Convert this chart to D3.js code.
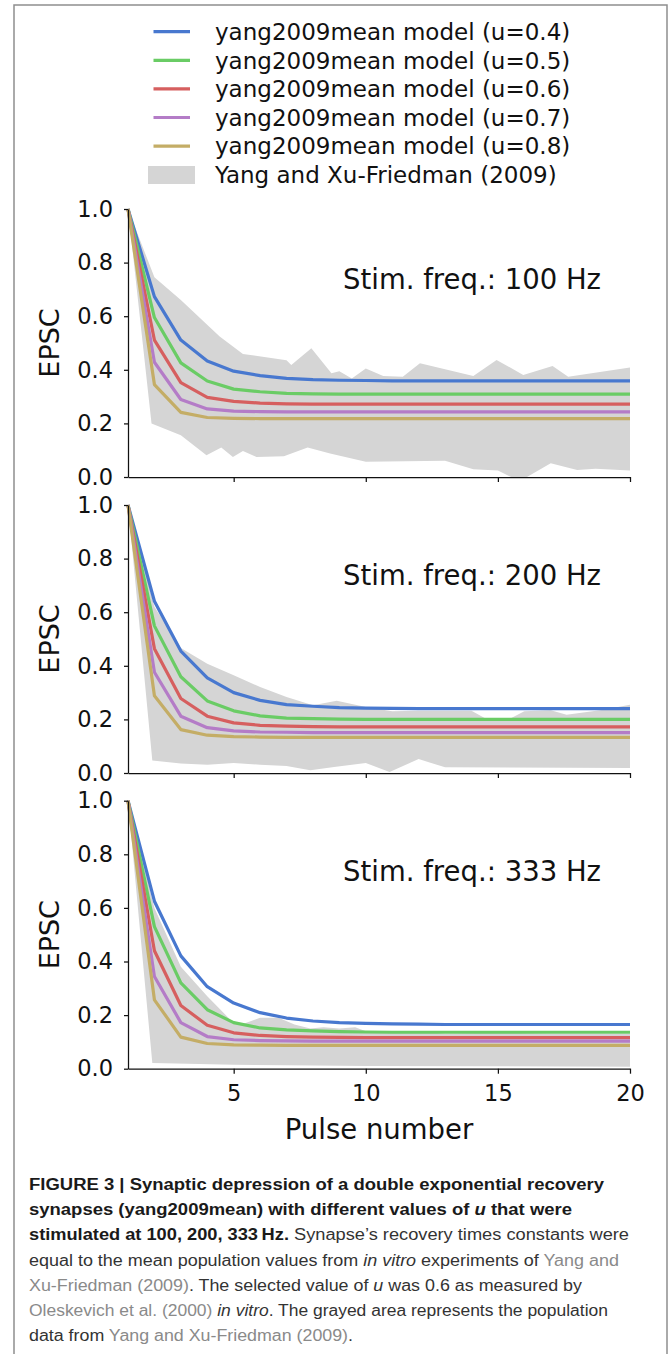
<!DOCTYPE html>
<html>
<head>
<meta charset="utf-8">
<script src="https://cdn.jsdelivr.net/npm/d3@7"></script>
<style>
  body { margin: 0; background: #fff; }
  svg { display: block; }
</style>
</head>
<body>
<div id="fig"></div>
<script>
// pulse numbers and model parameters
let pulses = d3.range(1, 21)
let uValues = [0.4, 0.5, 0.6, 0.7, 0.8]
let freqs = [100, 200, 333]
let lineColors = ["#4878CF", "#6ACC65", "#D65F5F", "#B47CC7", "#C4AD66"]
let yTicks = [0, 0.2, 0.4, 0.6, 0.8, 1.0]
let xTicks = [5, 10, 15, 20]

// model EPSC, one row per u value
let epsc100 = [
    [1, 0.673, 0.511, 0.433, 0.395, 0.378, 0.368, 0.363, 0.361, 0.360, 0.359, 0.359, 0.359, 0.359, 0.359, 0.359, 0.359, 0.359, 0.359, 0.359],
    [1, 0.595, 0.426, 0.358, 0.328, 0.318, 0.312, 0.310, 0.309, 0.309, 0.309, 0.309, 0.309, 0.309, 0.309, 0.309, 0.309, 0.309, 0.309, 0.309],
    [1, 0.511, 0.352, 0.297, 0.282, 0.276, 0.273, 0.272, 0.272, 0.272, 0.272, 0.272, 0.272, 0.272, 0.272, 0.272, 0.272, 0.272, 0.272, 0.272],
    [1, 0.428, 0.289, 0.254, 0.246, 0.244, 0.243, 0.243, 0.243, 0.243, 0.243, 0.243, 0.243, 0.243, 0.243, 0.243, 0.243, 0.243, 0.243, 0.243],
    [1, 0.345, 0.241, 0.222, 0.219, 0.218, 0.218, 0.218, 0.218, 0.218, 0.218, 0.218, 0.218, 0.218, 0.218, 0.218, 0.218, 0.218, 0.218, 0.218]
]
let epsc200 = [
    [1, 0.641, 0.455, 0.355, 0.300, 0.271, 0.255, 0.249, 0.244, 0.242, 0.241, 0.240, 0.240, 0.240, 0.240, 0.240, 0.240, 0.240, 0.240, 0.240],
    [1, 0.549, 0.359, 0.269, 0.232, 0.213, 0.205, 0.203, 0.201, 0.200, 0.200, 0.200, 0.200, 0.200, 0.200, 0.200, 0.200, 0.200, 0.200, 0.200],
    [1, 0.464, 0.278, 0.212, 0.187, 0.178, 0.175, 0.173, 0.172, 0.172, 0.172, 0.172, 0.172, 0.172, 0.172, 0.172, 0.172, 0.172, 0.172, 0.172],
    [1, 0.376, 0.212, 0.169, 0.157, 0.153, 0.152, 0.151, 0.151, 0.151, 0.151, 0.151, 0.151, 0.151, 0.151, 0.151, 0.151, 0.151, 0.151, 0.151],
    [1, 0.288, 0.162, 0.141, 0.136, 0.134, 0.133, 0.133, 0.133, 0.133, 0.133, 0.133, 0.133, 0.133, 0.133, 0.133, 0.133, 0.133, 0.133, 0.133]
]
let epsc333 = [
    [1, 0.625, 0.421, 0.306, 0.245, 0.209, 0.189, 0.178, 0.172, 0.169, 0.167, 0.166, 0.165, 0.165, 0.165, 0.165, 0.165, 0.165, 0.165, 0.165],
    [1, 0.530, 0.320, 0.220, 0.172, 0.152, 0.145, 0.141, 0.138, 0.137, 0.136, 0.136, 0.136, 0.136, 0.136, 0.136, 0.136, 0.136, 0.136, 0.136],
    [1, 0.440, 0.236, 0.162, 0.134, 0.124, 0.120, 0.118, 0.117, 0.116, 0.116, 0.116, 0.116, 0.116, 0.116, 0.116, 0.116, 0.116, 0.116, 0.116],
    [1, 0.344, 0.172, 0.120, 0.108, 0.105, 0.104, 0.103, 0.103, 0.103, 0.103, 0.103, 0.103, 0.103, 0.103, 0.103, 0.103, 0.103, 0.103, 0.103],
    [1, 0.257, 0.118, 0.094, 0.089, 0.088, 0.087, 0.087, 0.087, 0.087, 0.087, 0.087, 0.087, 0.087, 0.087, 0.087, 0.087, 0.087, 0.087, 0.087]
]

// population data envelope (Yang and Xu-Friedman 2009), [pulse, EPSC]
let bandUpper100 = [[1, 1], [2, 0.745], [3, 0.66], [4.47, 0.524], [5.35, 0.459], [7, 0.436], [7.18, 0.418], [7.94, 0.48], [8.7, 0.387], [9, 0.395], [9.47, 0.368], [10, 0.405], [10.66, 0.377], [11.4, 0.374], [12.05, 0.424], [14.07, 0.377], [14.95, 0.437], [15.96, 0.381], [17.07, 0.414], [17.66, 0.374], [20, 0.409]]
let bandLower100 = [[1, 1], [1.89, 0.2], [3, 0.156], [3.97, 0.081], [4.53, 0.11], [4.97, 0.075], [5.35, 0.097], [5.86, 0.075], [6.9, 0.077], [7.8, 0.11], [8.65, 0.088], [10, 0.057], [13, 0.061], [14.07, 0.029], [15, 0.024], [15.5, 0], [16.1, 0], [17, 0.051], [18, 0.026], [18.7, 0.031], [20, 0.024]]
let bandUpper200 = [[1, 1], [2, 0.62], [3, 0.466], [4, 0.408], [5, 0.365], [6, 0.321], [7, 0.284], [8, 0.253], [8.9, 0.27], [10, 0.246], [11, 0.23], [12, 0.232], [14, 0.232], [14.6, 0.2], [15.4, 0.2], [16, 0.23], [17, 0.234], [17.6, 0.217], [19, 0.236], [20, 0.255]]
let bandLower200 = [[1, 1], [1.92, 0.047], [3, 0.035], [4, 0.031], [5, 0.037], [6, 0.031], [7, 0.026], [7.9, 0.01], [8.8, 0.022], [10, 0.037], [10.9, 0.004], [12, 0.052], [13, 0.021], [20, 0.019]]
let bandUpper333 = [[1, 1], [2, 0.6], [3, 0.38], [4, 0.27], [4.9, 0.18], [5.3, 0.165], [6, 0.19], [6.7, 0.19], [7.3, 0.165], [7.9, 0.15], [8.4, 0.155], [9, 0.15], [9.6, 0.155], [10, 0.14], [11, 0.135], [12, 0.14], [13, 0.13], [15, 0.135], [17, 0.13], [20, 0.13]]
let bandLower333 = [[1, 1], [1.92, 0.021], [5, 0.015], [8, 0.012], [10, 0.01], [15, 0.009], [20, 0.007]]

let legendLabels = uValues.map(u => "yang2009mean model (u=" + u + ")")
let bandLabel = "Yang and Xu-Friedman (2009)"

let captionLines = [
    [["FIGURE 3 | Synaptic depression of a double exponential recovery", "b"]],
    [["synapses (yang2009mean) with different values of ", "b"], ["u", "bi"], [" that were", "b"]],
    [["stimulated at 100, 200, 333\u2009Hz.", "b"], [" Synapse\u2019s recovery times constants were", "n"]],
    [["equal to the mean population values from ", "n"], ["in vitro", "i"], [" experiments of ", "n"], ["Yang and", "l"]],
    [["Xu-Friedman (2009)", "l"], [". The selected value of ", "n"], ["u", "i"], [" was 0.6 as measured by", "n"]],
    [["Oleskevich et al. (2000)", "l"], [" ", "n"], ["in vitro", "i"], [". The grayed area represents the population", "n"]],
    [["data from ", "n"], ["Yang and Xu-Friedman (2009)", "l"], [".", "n"]]
]
let captionWidths = [575, 543, 600, 590, 553, 579, 324]

let width = 669
let height = 1354
let font = "DejaVu Sans"

let svg = d3.select("#fig")
    .append("svg")
    .attr("width", width)
    .attr("height", height)

// outer frame
svg.append("path")
    .attr("d", "M14,1360 L14,5 L667,5 L667,1360")
    .attr("fill", "none")
    .attr("stroke", "#8f8f8f")
    .attr("stroke-width", 1.5)

// legend
let legend = svg.append("g").attr("font-family", font).attr("font-size", "23px")
legendLabels.forEach((label, i) => {
    let ly = 31.7 + i * 28.6
    legend.append("line").attr("x1", 153.5).attr("x2", 190).attr("y1", ly).attr("y2", ly)
        .attr("stroke", lineColors[i]).attr("stroke-width", 3.2)
    legend.append("text").attr("x", 215).attr("y", ly).attr("dy", "0.36em").text(label).attr("fill", "#111")
})
legend.append("rect").attr("x", 148).attr("y", 166).attr("width", 47).attr("height", 18).attr("fill", "#d5d5d5")
legend.append("text").attr("x", 215).attr("y", 31.7 + 5 * 28.6).attr("dy", "0.36em").text(bandLabel).attr("fill", "#111")

// panels
let x = d3.scaleLinear().domain([1, 20]).range([128, 630])
let panelTops = [209, 505, 800.7]
let panelH = 268
let panelData = [epsc100, epsc200, epsc333]
let panelUpper = [bandUpper100, bandUpper200, bandUpper333]
let panelLower = [bandLower100, bandLower200, bandLower333]

freqs.forEach((f, p) => {
    let top = panelTops[p]
    let y = d3.scaleLinear().domain([0, 1]).range([top + panelH, top])
    let g = svg.append("g")

    let poly = panelUpper[p].concat(panelLower[p].slice().reverse())
    let line = d3.line().x(d => x(d[0])).y(d => y(d[1]))
    g.append("path").attr("d", line(poly) + "Z").attr("fill", "#d5d5d5")

    panelData[p].forEach((series, i) => {
        let pts = pulses.map((pn, k) => [pn, series[k]])
        g.append("path").attr("d", line(pts))
            .attr("fill", "none")
            .attr("stroke", lineColors[i])
            .attr("stroke-width", 3.2)
            .attr("stroke-linejoin", "round")
    })

    let yAxis = g.append("g")
        .attr("transform", "translate(" + x(1) + ",0)")
        .call(d3.axisLeft(y).tickValues(yTicks).tickFormat(d3.format(".1f")).tickSize(4).tickSizeOuter(0).tickPadding(11))
    let xAxis = g.append("g")
        .attr("transform", "translate(0," + y(0) + ")")
        .call(d3.axisBottom(x).tickValues(xTicks).tickSize(5).tickSizeOuter(0).tickPadding(11)
            .tickFormat(p == 2 ? d3.format("d") : ""))
    ;[yAxis, xAxis].forEach(a => {
        a.selectAll("text").attr("font-family", font).attr("font-size", "22.5px").attr("fill", "#111")
        a.selectAll("line").attr("stroke", "#111").attr("stroke-width", 1.25)
        a.select(".domain").attr("stroke", "#111").attr("stroke-width", 1.25)
    })

    g.append("text")
        .attr("transform", "translate(49," + (top + panelH / 2) + ") rotate(-90)")
        .attr("text-anchor", "middle")
        .attr("dy", "0.36em")
        .attr("font-family", font).attr("font-size", "27px").attr("fill", "#111")
        .text("EPSC")

    g.append("text")
        .attr("x", 343).attr("y", top + 80)
        .attr("font-family", font).attr("font-size", "27.5px").attr("fill", "#111")
        .text("Stim. freq.: " + f + " Hz")
})

svg.append("text")
    .attr("x", x(10.5)).attr("y", 1139)
    .attr("text-anchor", "middle")
    .attr("font-family", font).attr("font-size", "27.5px").attr("fill", "#111")
    .text("Pulse number")

// caption
let capStyle = {
    b: { w: 700, s: "normal", c: "#1a1a1a" },
    bi: { w: 700, s: "italic", c: "#1a1a1a" },
    n: { w: 400, s: "normal", c: "#333" },
    i: { w: 400, s: "italic", c: "#333" },
    l: { w: 400, s: "normal", c: "#8a8a8a" }
}
captionLines.forEach((segs, i) => {
    let t = svg.append("text")
        .attr("x", 29).attr("y", 1190 + i * 25.2)
        .attr("font-family", "Liberation Sans, Arial, sans-serif")
        .attr("font-size", "16px")
        .attr("textLength", captionWidths[i])
        .attr("lengthAdjust", "spacingAndGlyphs")
    segs.forEach(s => {
        let st = capStyle[s[1]]
        t.append("tspan").text(s[0])
            .attr("font-weight", st.w).attr("font-style", st.s).attr("fill", st.c)
    })
})
</script>
</body>
</html>
